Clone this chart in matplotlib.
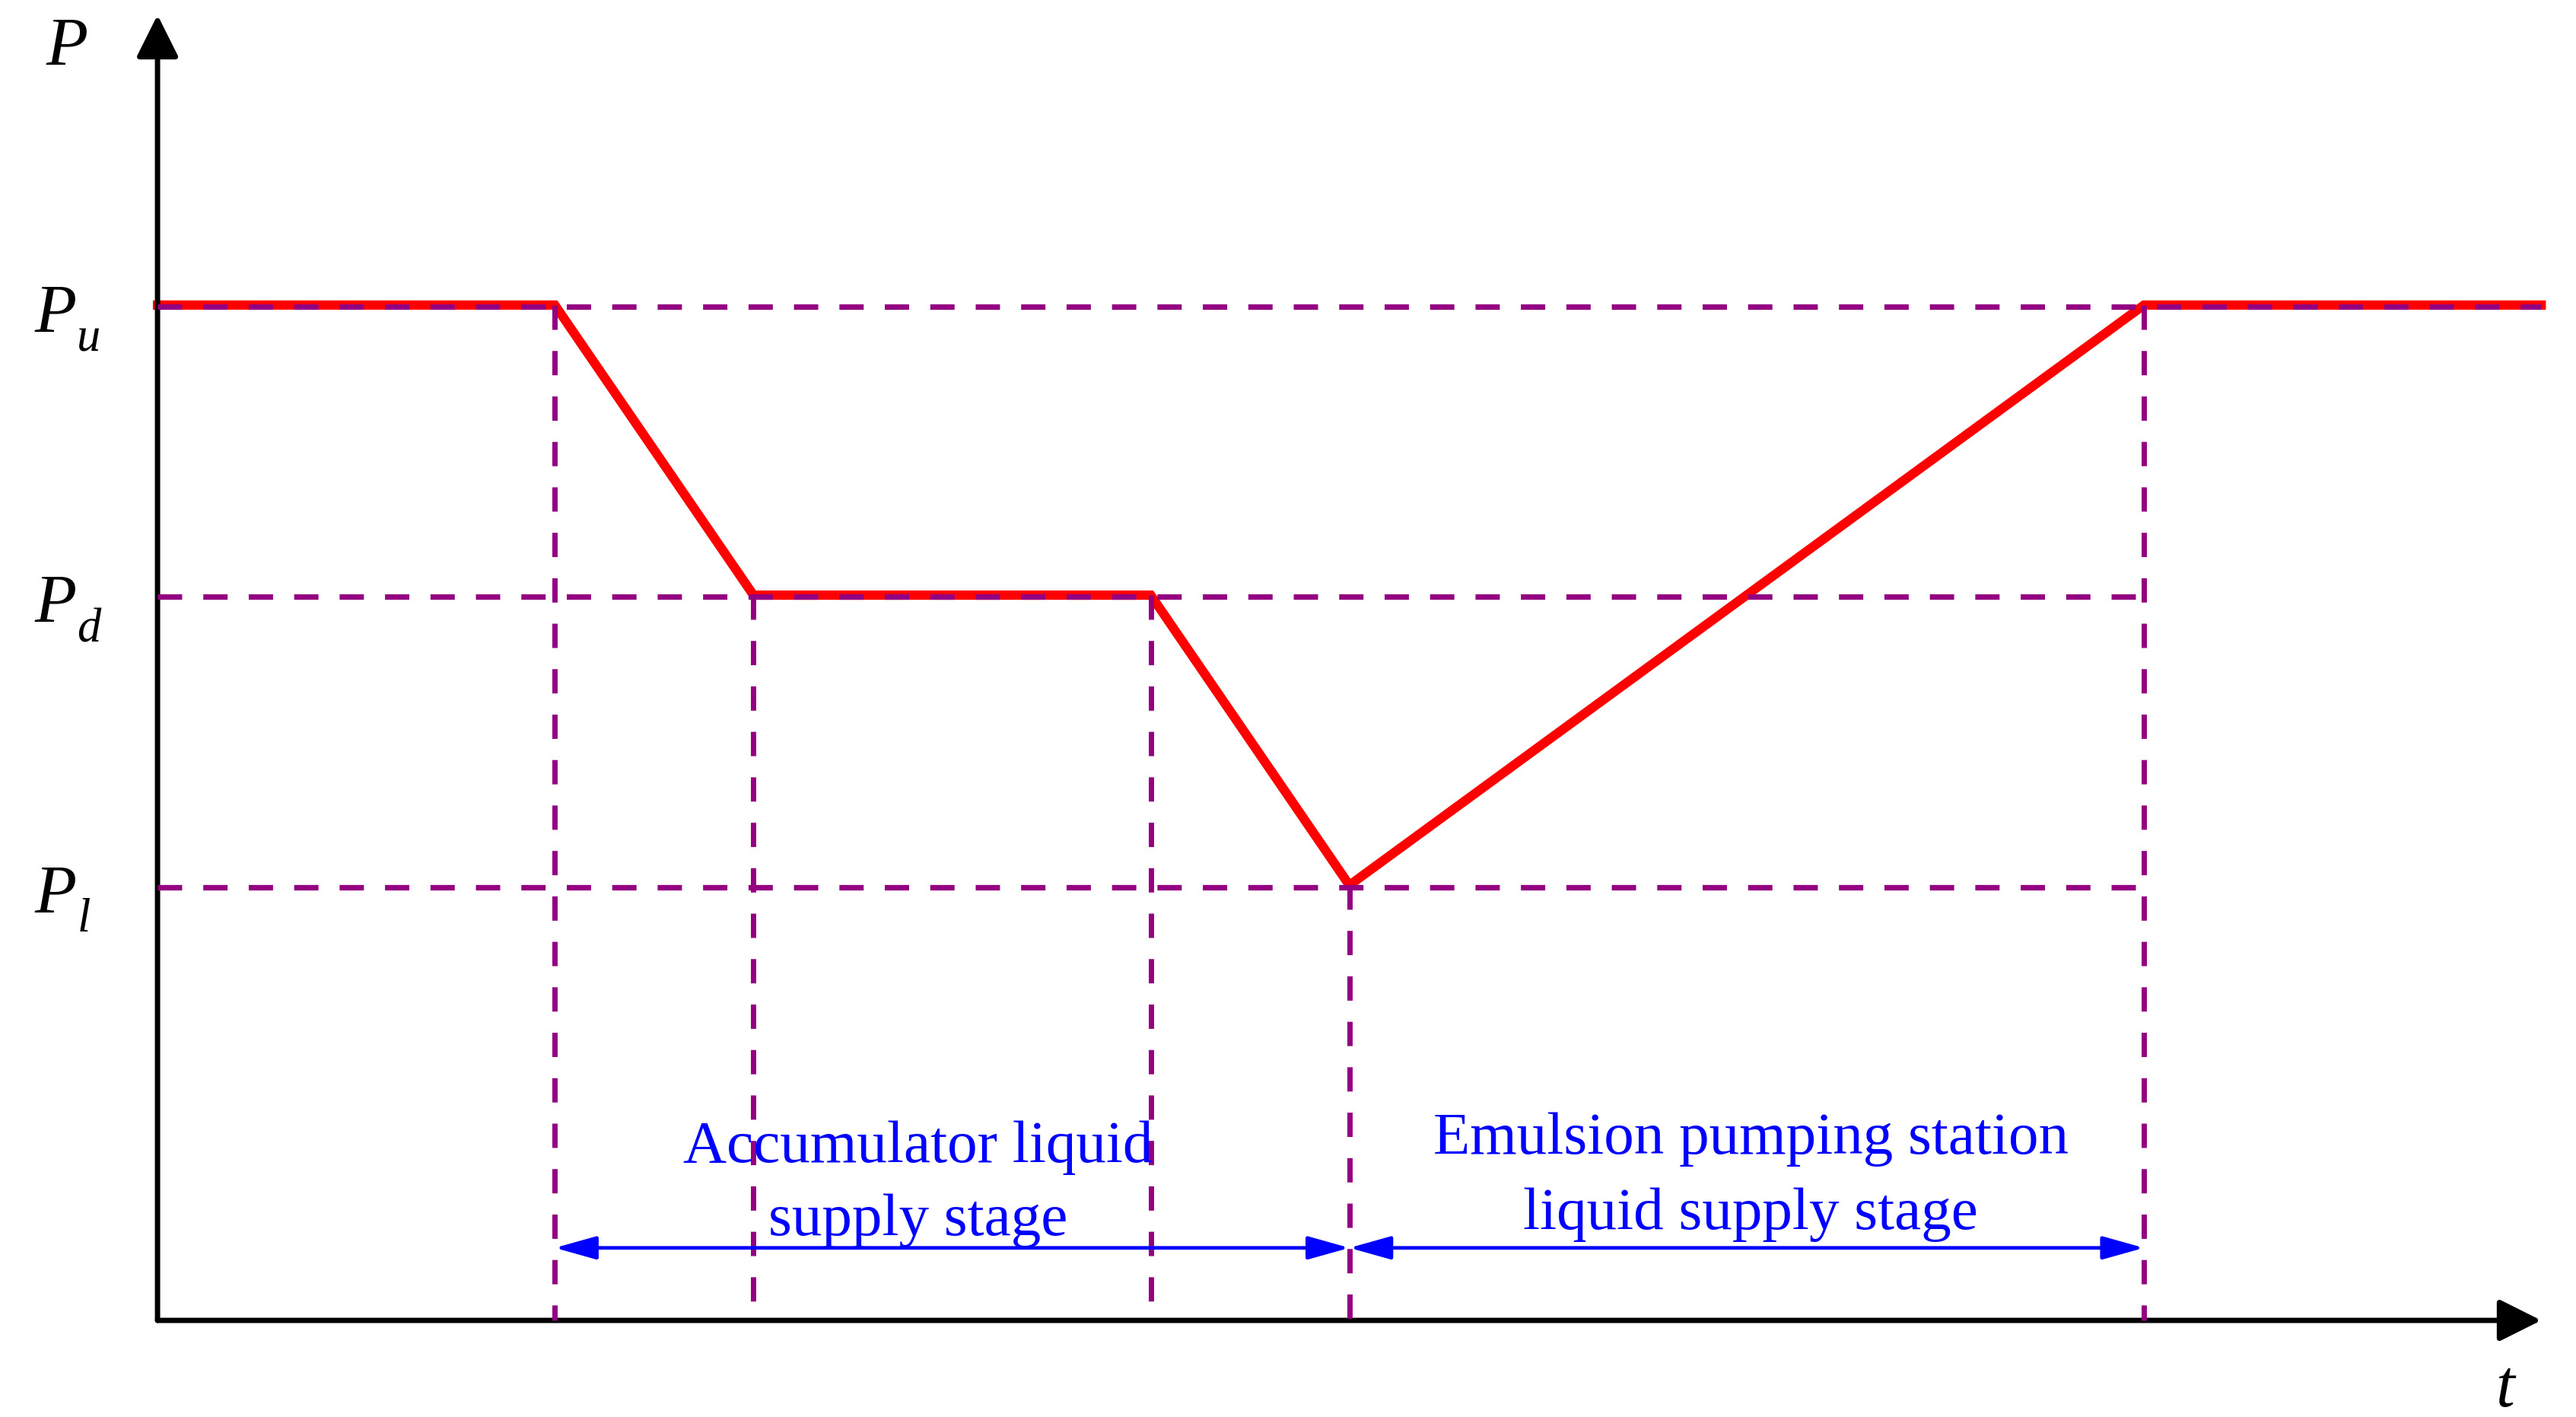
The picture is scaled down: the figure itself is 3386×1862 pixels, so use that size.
import matplotlib.pyplot as plt

plt.rcParams['lines.scale_dashes'] = False

# pressure curve (time breakpoints, pressure values)
t_break = [0, 2, 3, 5, 6, 10, 12]
p_curve = [7, 7, 5, 5, 3, 7, 7]

# pressure levels
levels = [7, 5, 3]
level_subs = ['u', 'd', 'l']
level_guide_end = [12, 10, 10]

# stages
stage_bounds = [2, 6, 10]
stage_labels = [["Accumulator liquid", "supply stage"],
                 ["Emulsion pumping station", "liquid supply stage"]]

serif = ['Liberation Serif', 'DejaVu Serif']
purple = '#930082'
dash = (0, (23, 20))

fig = plt.figure(figsize=(33.86, 18.62), dpi=100)
ax = fig.add_axes([0, 0, 1, 1])
ax.set_xlim(-0.793, 12.175)
ax.set_ylim(-0.666, 9.103)
ax.axis('off')

# axes with arrows
ax.annotate('', xy=(12.0, 0), xytext=(0, 0),
            arrowprops=dict(arrowstyle='-|>,head_length=1.0,head_width=0.5',
                            mutation_scale=34, lw=5, color='black',
                            shrinkA=0, shrinkB=0, joinstyle='round'))
ax.annotate('', xy=(0, 9.0), xytext=(0, 0),
            arrowprops=dict(arrowstyle='-|>,head_length=1.0,head_width=0.5',
                            mutation_scale=34, lw=5, color='black',
                            shrinkA=0, shrinkB=0, joinstyle='round'))

# red pressure curve
ax.plot(t_break, p_curve, color='#ff0000', lw=8.8, solid_joinstyle='miter', zorder=2)

# purple dashed guides
for lv, end in zip(levels, level_guide_end):
    ax.plot([0, end], [lv - 0.012, lv - 0.012], color=purple, lw=5.2, ls=dash,
            solid_capstyle='butt', zorder=3)
for t, p in zip(t_break[1:6], p_curve[1:6]):
    ax.plot([t, t], [p, 0], color=purple, lw=5.0, ls=dash, zorder=3)

# stage arrows
for a, b in zip(stage_bounds[:-1], stage_bounds[1:]):
    ax.annotate('', xy=(b, 0.5), xytext=(a, 0.5),
                arrowprops=dict(arrowstyle='<|-|>,head_length=1.0,head_width=0.28',
                                mutation_scale=33.5, lw=3.4, color='#0000ff',
                                shrinkA=0, shrinkB=0))

# stage labels
label_x = [3.83, 8.02]
label_y = [[1.09, 0.59], [1.15, 0.63]]
for lines, x, ys in zip(stage_labels, label_x, label_y):
    for txt, y in zip(lines, ys):
        ax.text(x, y, txt, color='#0000ff', fontsize=57, family=serif,
                ha='center', va='baseline')

# axis labels
ax.text(-0.56, 8.65, 'P', fontsize=65, family=serif, style='italic',
        ha='left', va='baseline')
ax.text(11.77, -0.59, 't', fontsize=64, family=serif, style='italic',
        ha='left', va='baseline')

# level labels
for lv, sub in zip(levels, level_subs):
    ax.text(-0.62, lv - 0.19, 'P', fontsize=65, family=serif, style='italic',
            ha='left', va='baseline')
    ax.text(-0.405, lv - 0.32, sub, fontsize=45, family=serif, style='italic',
            ha='left', va='baseline')

fig.savefig('out.png', dpi=100)
